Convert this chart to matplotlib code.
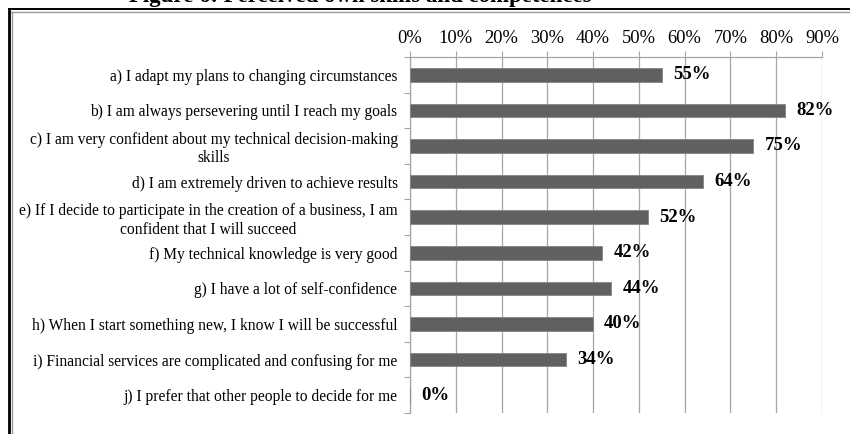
import matplotlib
matplotlib.use("Agg")
import matplotlib.pyplot as plt
from matplotlib.lines import Line2D
from matplotlib.ticker import FixedLocator, FuncFormatter

plt.rcParams["font.family"] = ["Liberation Serif", "DejaVu Serif"]

categories = [
    "a) I adapt my plans to changing circumstances",
    "b) I am always persevering until I reach my goals",
    "c) I am very confident about my technical decision-making\nskills",
    "d) I am extremely driven to achieve results",
    "e) If I decide to participate in the creation of a business, I am\nconfident that I will succeed",
    "f) My technical knowledge is very good",
    "g) I have a lot of self-confidence",
    "h) When I start something new, I know I will be successful",
    "i) Financial services are complicated and confusing for me",
    "j) I prefer that other people to decide for me",
]
values = [0.55, 0.82, 0.75, 0.64, 0.52, 0.42, 0.44, 0.40, 0.34, 0.00]
x_ticks = [0.0, 0.1, 0.2, 0.3, 0.4, 0.5, 0.6, 0.7, 0.8, 0.9]
title = "Figure 6: Perceived own skills and competences"

W, H, DPI = 850, 434, 100
fig = plt.figure(figsize=(W / DPI, H / DPI), dpi=DPI)
fig.patch.set_facecolor("white")

def fx(px):
    return px / W

def fy(py):
    return 1 - py / H

ax = fig.add_axes([fx(410), fy(413), fx(822) - fx(410), fy(57) - fy(413)])

grid_c = "#a6a6a6"
pos = list(range(len(categories)))
ax.barh(pos, values, height=0.38, color="#606060", edgecolor="#8a8a8a",
        linewidth=0.7, zorder=3)

for p, v in zip(pos, values):
    ax.annotate(f"{v * 100:.0f}%", xy=(v, p), xytext=(8, 0),
                textcoords="offset points", va="center", ha="left",
                fontsize=13.5, fontweight="bold", color="black", zorder=4)

ax.set_xlim(0, 0.9)
ax.set_ylim(len(categories) - 0.5, -0.5)

ax.xaxis.tick_top()
ax.xaxis.set_major_locator(FixedLocator(x_ticks))
ax.xaxis.set_major_formatter(FuncFormatter(lambda v, _: f"{v * 100:.0f}%"))
ax.tick_params(axis="x", which="major", direction="out", length=4.5,
               width=0.8, color=grid_c, labelsize=13.3, pad=3,
               labelcolor="black")
ax.grid(axis="x", color=grid_c, linewidth=0.9, zorder=0)
ax.set_axisbelow(True)

ax.set_yticks(pos)
ax.set_yticklabels(categories, fontsize=11.2)
for lab in ax.get_yticklabels():
    lab.set_multialignment("center")
ax.tick_params(axis="y", which="major", length=0, pad=9)
ax.set_yticks([p + 0.5 for p in pos[:-1]] + [-0.5, len(categories) - 0.5], minor=True)
ax.tick_params(axis="y", which="minor", direction="out", length=4.5,
               width=0.8, color=grid_c)

for side in ("bottom", "right"):
    ax.spines[side].set_visible(False)
for side in ("top", "left"):
    ax.spines[side].set_color(grid_c)
    ax.spines[side].set_linewidth(0.9)

# outer frame: double line along top and left edges
fig.add_artist(Line2D([fx(8.5), 1], [fy(9.2), fy(9.2)], color="black", lw=1.4))
fig.add_artist(Line2D([fx(8.5), 1], [fy(11.8), fy(11.8)], color="#9a9a9a", lw=1.0))
fig.add_artist(Line2D([fx(8.7), fx(8.7)], [fy(9.2), 0], color="black", lw=2.0))
fig.add_artist(Line2D([fx(11.8), fx(11.8)], [fy(11.8), 0], color="#9a9a9a", lw=1.0))

fig.text(fx(360), fy(2.2), title, ha="center", va="baseline",
         fontsize=16.5, fontweight="bold")

fig.savefig("out.png", dpi=DPI, facecolor="white")
